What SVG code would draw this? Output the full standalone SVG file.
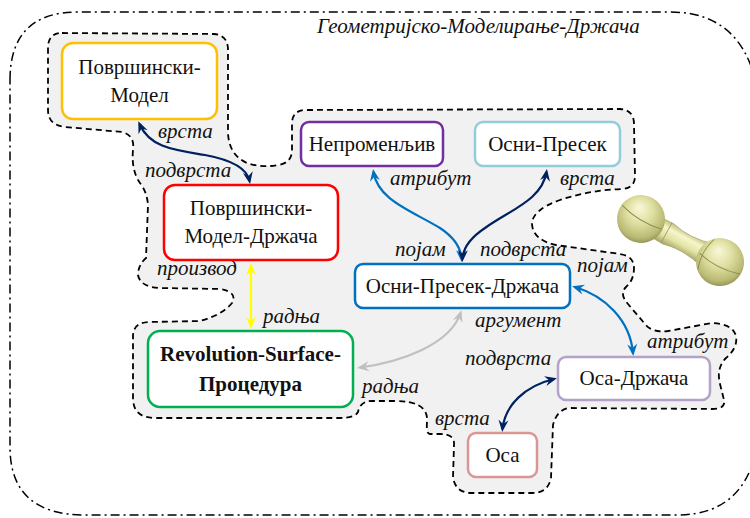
<svg xmlns="http://www.w3.org/2000/svg" width="750" height="518" viewBox="0 0 750 518">
  <style>
    .node rect { fill: #ffffff; stroke-width: 2.5; }
    .node text { font-family: "Liberation Serif", "Times New Roman", serif; font-size: 21px; fill: #111; text-anchor: middle; }
    .lbl { font-family: "Liberation Serif", "Times New Roman", serif; font-size: 21px; font-style: italic; fill: #111; }
    .conn { fill: none; stroke-width: 2.2; }
  </style>
  <defs>
    <marker id="ah-navy" viewBox="-13 -6 14 12" refX="-3" refY="0" markerWidth="14" markerHeight="12" markerUnits="userSpaceOnUse" orient="auto-start-reverse">
      <path d="M0,0 L-12,-5 L-8,0 L-12,5 Z" fill="#002060"/>
    </marker>
    <marker id="ah-blue" viewBox="-13 -6 14 12" refX="-3" refY="0" markerWidth="14" markerHeight="12" markerUnits="userSpaceOnUse" orient="auto-start-reverse">
      <path d="M0,0 L-12,-5 L-8,0 L-12,5 Z" fill="#0070c0"/>
    </marker>
    <marker id="ah-yellow" viewBox="-13 -6 14 12" refX="-3" refY="0" markerWidth="14" markerHeight="12" markerUnits="userSpaceOnUse" orient="auto-start-reverse">
      <path d="M0,0 L-12,-5 L-8,0 L-12,5 Z" fill="#ffff00"/>
    </marker>
    <marker id="ah-grey" viewBox="-13 -6 14 12" refX="-3" refY="0" markerWidth="14" markerHeight="12" markerUnits="userSpaceOnUse" orient="auto-start-reverse">
      <path d="M0,0 L-12,-5 L-8,0 L-12,5 Z" fill="#c0c0c0"/>
    </marker>
    <radialGradient id="ball" cx="0.45" cy="0.42" r="0.6" fx="0.35" fy="0.3">
      <stop offset="0" stop-color="#f8f8da"/>
      <stop offset="0.45" stop-color="#e0e0a2"/>
      <stop offset="0.85" stop-color="#baba74"/>
      <stop offset="1" stop-color="#94945a"/>
    </radialGradient>
    <linearGradient id="neck" gradientUnits="userSpaceOnUse" x1="0" y1="-12" x2="0" y2="12">
      <stop offset="0" stop-color="#bcbc78"/>
      <stop offset="0.3" stop-color="#f6f6cc"/>
      <stop offset="0.65" stop-color="#e2e2a4"/>
      <stop offset="1" stop-color="#a0a062"/>
    </linearGradient>
  </defs>

  <!-- outer context boundary -->
  <path d="M 10,80 Q 10,12 78,12 L 670,12 Q 752,12 760,110 L 760,420 Q 756,515 677,515 L 85,515 Q 10,515 10,447 Z" fill="none" stroke="#000" stroke-width="1.5" stroke-dasharray="9 4 2 4"/>
  <text class="lbl" x="317" y="33" font-size="21.5">Геометријско-Моделирање-Држача</text>

  <!-- shaded region around the nodes -->
  <path d="M 62,33 L 214,34 Q 228,35 228,50 L 228,133 Q 229,155 247,163 Q 262,168 278,165 Q 292,163 292,150 L 292,124 Q 292,110 306,110 L 620,109 Q 634,110 634,124 L 635,176 Q 635,188 622,189 Q 590,190 560,200 Q 532,210 532,224 Q 533,240 556,245 L 620,254 Q 634,256 634,268 Q 634,280 626,287 Q 619,294 628,304 L 645,324 Q 652,333 668,331 L 712,323 Q 733,324 736,336 Q 738,348 726,358 Q 716,368 720,384 L 724,400 Q 726,409 712,409 L 570,408 Q 557,409 553,425 L 551,478 Q 548,493 532,493 L 470,493 Q 455,492 453,477 L 454,445 Q 455,434 440,434 L 430,434 Q 426,434 427,422 Q 428,410 418,405 Q 410,401 395,401 L 372,401 Q 360,401 358,412 Q 355,418 340,418 L 155,418 Q 133,418 133,398 L 133,335 Q 134,322 150,322 L 200,321 Q 222,315 232,303 Q 238,292 220,289 L 160,288 Q 140,287 138,275 Q 138,265 146,258 L 148,205 Q 147,192 140,183 Q 131,170 133,150 Q 135,135 122,132 L 65,127 Q 48,125 48,110 L 48,48 Q 48,33 62,33 Z" fill="#f1f1f1" stroke="#000" stroke-width="1.8" stroke-dasharray="6 4"/>

  <!-- dumbbell picture -->
  <g id="dumbbell" transform="translate(641,219) rotate(28.6)">
    <path d="M 18,-11 L 31,-11.5 Q 52,-6 76,-13 L 76,13 Q 52,6 31,11.5 L 18,11 Z" fill="url(#neck)" stroke="#a0a062" stroke-width="0.6"/>
    <path d="M 29,-11.3 L 29,11.3" stroke="#9a9a5c" stroke-width="0.8"/>
    <circle cx="0" cy="0" r="24" fill="url(#ball)"/>
    <circle cx="90" cy="0" r="24" fill="url(#ball)"/>
    <path d="M -23,-3 Q 0,4 23,-1" fill="none" stroke="#8a8a52" stroke-width="0.9"/>
    <path d="M 68,2 Q 90,8 113,1" fill="none" stroke="#8a8a52" stroke-width="0.9"/>
    <path d="M 74,-17 Q 68,0 74,17" fill="none" stroke="#8a8a52" stroke-width="0.9"/>
  </g>

  <!-- connectors -->
  <g id="connectors">
    <path class="conn" stroke="#002060" d="M 139.5,124 C 150,148 175,150 205,155 C 232,160 247,168 249.5,181" marker-start="url(#ah-navy)" marker-end="url(#ah-navy)"/>
    <path class="conn" stroke="#0070c0" d="M 373.5,172 C 378,200 410,210 440,228 C 455,238 461,248 461.5,259" marker-start="url(#ah-blue)" marker-end="url(#ah-blue)"/>
    <path class="conn" stroke="#002060" d="M 546.5,172 C 542,200 510,210 485,228 C 470,238 463,248 462.5,259" marker-start="url(#ah-navy)" marker-end="url(#ah-navy)"/>
    <path class="conn" stroke="#0070c0" d="M 575,287 C 605,296 630,320 633,353" marker-start="url(#ah-blue)" marker-end="url(#ah-blue)"/>
    <path class="conn" stroke="#002060" d="M 554,379 C 525,386 505,405 502.5,429" marker-start="url(#ah-navy)" marker-end="url(#ah-navy)"/>
    <path class="conn" stroke="#ffff00" d="M 251,266 L 251,326" marker-start="url(#ah-yellow)" marker-end="url(#ah-yellow)"/>
    <path class="conn" stroke="#c0c0c0" stroke-width="2.5" d="M 360,367.5 C 400,362 450,345 460.5,313" marker-start="url(#ah-grey)" marker-end="url(#ah-grey)"/>
  </g>

  <!-- connector labels -->
  <g id="labels">
    <text class="lbl" x="158" y="138">врста</text>
    <text class="lbl" x="145" y="177">подврста</text>
    <text class="lbl" x="390" y="185">атрибут</text>
    <text class="lbl" x="560" y="185">врста</text>
    <text class="lbl" x="395" y="256">појам</text>
    <text class="lbl" x="480" y="256">подврста</text>
    <text class="lbl" x="577" y="272">појам</text>
    <text class="lbl" x="647" y="348">атрибут</text>
    <text class="lbl" x="465" y="365">подврста</text>
    <text class="lbl" x="435" y="425">врста</text>
    <text class="lbl" x="157" y="275">производ</text>
    <text class="lbl" x="263" y="323">радња</text>
    <text class="lbl" x="475" y="327">аргумент</text>
    <text class="lbl" x="362" y="393">радња</text>
  </g>

  <!-- nodes -->
  <g id="povrsinski-model" class="node">
    <rect x="62" y="43" width="155" height="76" rx="11" stroke="#ffc000"/>
    <text x="139.5" y="74">Површински-</text>
    <text x="139.5" y="102">Модел</text>
  </g>
  <g id="povrsinski-model-drzaca" class="node">
    <rect x="164" y="185" width="174" height="75" rx="11" stroke="#ff0000"/>
    <text x="251" y="215">Површински-</text>
    <text x="251" y="243">Модел-Држача</text>
  </g>
  <g id="nepromenljiv" class="node">
    <rect x="301" y="122" width="142" height="44" rx="8" stroke="#7030a0"/>
    <text x="372" y="151">Непроменљив</text>
  </g>
  <g id="osni-presek" class="node">
    <rect x="475" y="122" width="145" height="44" rx="8" stroke="#92cddc"/>
    <text x="547.5" y="151">Осни-Пресек</text>
  </g>
  <g id="osni-presek-drzaca" class="node">
    <rect x="355" y="264" width="215" height="44" rx="8" stroke="#0070c0"/>
    <text x="462.5" y="293">Осни-Пресек-Држача</text>
  </g>
  <g id="revolution-surface-procedura" class="node">
    <rect x="148" y="331" width="205" height="76" rx="12" stroke="#00b050" stroke-width="3.5"/>
    <text x="250.5" y="361" font-weight="bold">Revolution-Surface-</text>
    <text x="250.5" y="391" font-weight="bold">Процедура</text>
  </g>
  <g id="osa-drzaca" class="node">
    <rect x="558" y="357" width="152" height="43" rx="8" stroke="#b3a2c7"/>
    <text x="634" y="385">Оса-Држача</text>
  </g>
  <g id="osa" class="node">
    <rect x="468" y="433" width="69" height="44" rx="8" stroke="#da9694"/>
    <text x="502.5" y="462">Оса</text>
  </g>
</svg>
